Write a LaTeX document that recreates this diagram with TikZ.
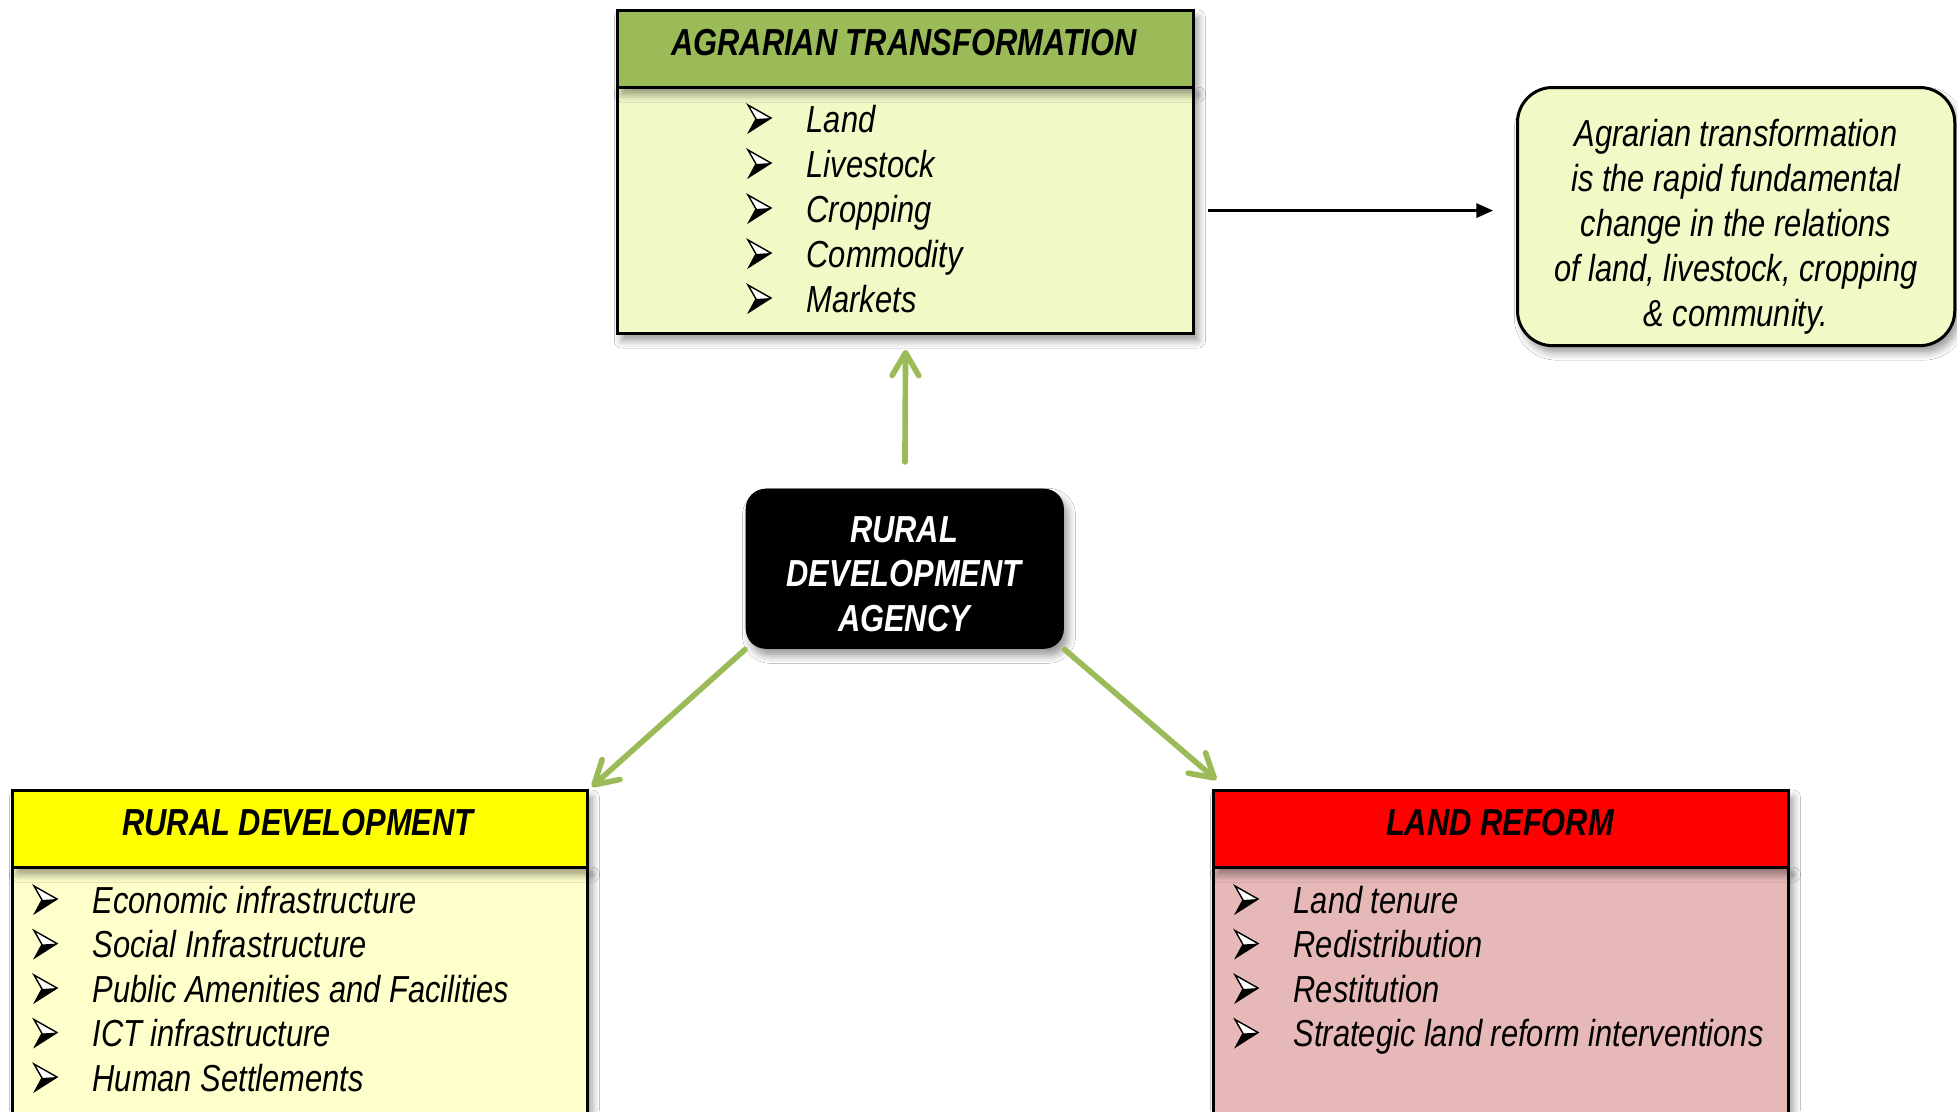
\documentclass[tikz,border=0pt]{standalone}
\usepackage{fontspec}
\setmainfont{Liberation Sans}[FakeStretch=0.82]
\usetikzlibrary{arrows.meta,shadows,shadows.blur}
\definecolor{hgreen}{HTML}{9BBB59}
\definecolor{atfill}{HTML}{F2F9C7}
\definecolor{rdhead}{HTML}{FFFF00}
\definecolor{rdfill}{HTML}{FFFFCC}
\definecolor{lrhead}{HTML}{FF0000}
\definecolor{lrfill}{HTML}{E6B8B7}
\newcommand{\itemfont}{\fontsize{10.7}{12.8}\selectfont\itshape}
\newcommand{\hdrfont}{\fontsize{10.7}{12.6}\selectfont\bfseries\itshape}
\tikzset{
  boxpart/.style={draw=black, line width=0.85pt, inner sep=0pt, anchor=north west,
    blur shadow={shadow xshift=1.2pt, shadow yshift=-2pt, shadow blur steps=6, shadow opacity=40}},
  itemtext/.style={font=\itemfont, inner sep=0pt, anchor=base west},
  titletext/.style={font=\hdrfont, inner sep=0pt, anchor=base},
  greenarrow/.style={draw=hgreen, line width=1.6pt, line cap=round,
    -{Straight Barb[length=6.5pt, width=7.6pt, line cap=round, line join=round]}},
  bul/.pic={
    \filldraw[fill=white, draw=black, line width=0.4pt] (0,-27) -- (23,-14) -- (1,0) -- (8,-13) -- cycle;
    \fill[black] (8,-13) -- (23,-14) -- (1,0) -- cycle;
  }
}
\begin{document}
\begin{tikzpicture}[x=0.01cm, y=-0.01cm]
\useasboundingbox (0,0) rectangle (1957,1111);
\clip (0,0) rectangle (1957,1111);
\fill[white] (0,0) rectangle (1957,1111);

% ---------- Agrarian transformation ----------
\node[boxpart, fill=atfill, minimum width=5.76cm, minimum height=2.46cm] (atbody) at (616,86) {};
\node[boxpart, fill=hgreen, minimum width=5.76cm, minimum height=0.77cm] (athead) at (616,9) {};
\node[titletext] (attitle) at (904,55) {AGRARIAN TRANSFORMATION};
\foreach \t [count=\i] in {Land,Livestock,Cropping,Commodity,Markets}{
  \pic at (748,{132+45*(\i-1)}) {bul};
  \node[itemtext] (ati\i) at (806,{132+45*(\i-1)}) {\t};
}

% ---------- Note ----------
\node[draw=black, line width=0.85pt, fill=atfill, rounded corners=0.35cm, inner sep=0pt,
  minimum width=4.37cm, minimum height=2.58cm, anchor=north west,
  blur shadow={shadow xshift=1.2pt, shadow yshift=-2pt, shadow blur steps=6, shadow opacity=40}] (note) at (1516,86) {};
\node[font=\itemfont, align=center, inner sep=0pt] (notetext) at (1736,227)
  {Agrarian transformation\\ is the rapid fundamental\\change in the relations\\of land, livestock, cropping\\\& community.};

\draw[line width=0.9pt, -{Triangle[length=4.8pt, width=4pt]}, shorten <=3.7pt, shorten >=6.5pt]
  (atbody.east) -- (atbody.east -| note.west);

% ---------- Rural Development Agency ----------
\node[fill=black, rounded corners=0.2cm, inner sep=0pt, minimum width=3.18cm, minimum height=1.6cm,
  anchor=north west,
  blur shadow={shadow xshift=1.2pt, shadow yshift=-2pt, shadow blur steps=6, shadow opacity=40}] (rda) at (745,488) {};
\node[font=\hdrfont, text=white, align=center, inner sep=0pt] (rdatext) at (904,574)
  {RURAL\\DEVELOPMENT\\AGENCY};

% ---------- Rural development ----------
\node[boxpart, fill=rdfill, minimum width=5.75cm, minimum height=3cm] (rdbody) at (11,866) {};
\node[boxpart, fill=rdhead, minimum width=5.75cm, minimum height=0.77cm] (rdhead) at (11,789) {};
\node[titletext] (rdtitle) at (298,835) {RURAL DEVELOPMENT};
\foreach \t [count=\i] in {Economic infrastructure,Social Infrastructure,Public Amenities and Facilities,ICT infrastructure,Human Settlements}{
  \pic at (34,{913+44.5*(\i-1)}) {bul};
  \node[itemtext] (rdi\i) at (92,{913+44.5*(\i-1)}) {\t};
}

% ---------- Land reform ----------
\node[boxpart, fill=lrfill, minimum width=5.75cm, minimum height=3cm] (lrbody) at (1212,866) {};
\node[boxpart, fill=lrhead, minimum width=5.75cm, minimum height=0.77cm] (lrhead) at (1212,789) {};
\node[titletext] (lrtitle) at (1500,835) {LAND REFORM};
\foreach \t [count=\i] in {Land tenure,Redistribution,Restitution,Strategic land reform interventions}{
  \pic at (1235,{913+44.5*(\i-1)}) {bul};
  \node[itemtext] (lri\i) at (1293,{913+44.5*(\i-1)}) {\t};
}

% ---------- Green connectors ----------
\draw[greenarrow, shorten <=7.4pt, shorten >=4.2pt] (rda.north) -- (atbody.south);
\draw[greenarrow, shorten >=1pt] (rda.south west) -- (rdhead.north east);
\draw[greenarrow, shorten >=1pt] (rda.south east) -- ([xshift=0.07cm, yshift=0.07cm]lrhead.north west);
\end{tikzpicture}
\end{document}
